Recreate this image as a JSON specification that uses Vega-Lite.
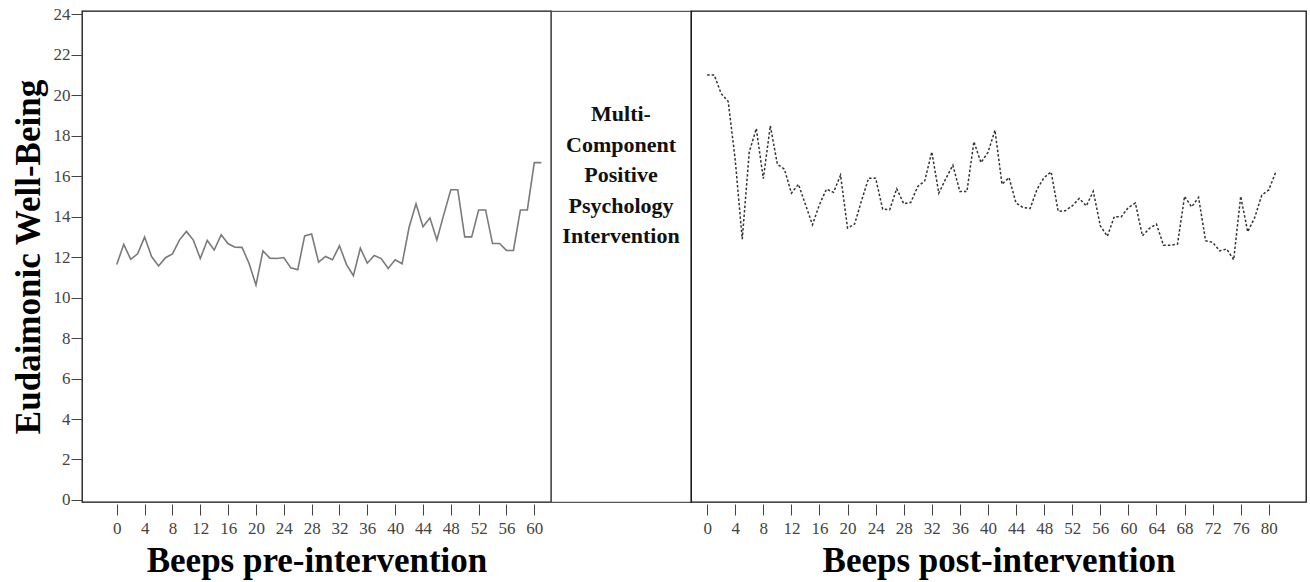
{
  "$schema": "https://vega.github.io/schema/vega-lite/v6.json",
  "background": "white",
  "padding": {"left": 10, "top": 4, "right": 2, "bottom": 4},
  "spacing": 0,
  "bounds": "flush",
  "config": {
    "font": "Liberation Serif",
    "view": {"stroke": "#111", "strokeWidth": 1.3},
    "axis": {
      "labelFont": "Liberation Serif",
      "labelFontSize": 17,
      "labelColor": "#444",
      "tickColor": "#444",
      "tickSize": 11,
      "grid": false,
      "domain": false,
      "titleFont": "Liberation Serif",
      "titleFontSize": 35,
      "titleFontWeight": "bold",
      "titleColor": "#000"
    }
  },
  "datasets": {
    "pre": [
      {"beep": 0, "wellbeing": 11.64}, {"beep": 1, "wellbeing": 12.63}, {"beep": 2, "wellbeing": 11.89}, {"beep": 3, "wellbeing": 12.16},
      {"beep": 4, "wellbeing": 12.99}, {"beep": 5, "wellbeing": 12.03}, {"beep": 6, "wellbeing": 11.56}, {"beep": 7, "wellbeing": 11.97},
      {"beep": 8, "wellbeing": 12.16}, {"beep": 9, "wellbeing": 12.84}, {"beep": 10, "wellbeing": 13.27}, {"beep": 11, "wellbeing": 12.84},
      {"beep": 12, "wellbeing": 11.93}, {"beep": 13, "wellbeing": 12.82}, {"beep": 14, "wellbeing": 12.35}, {"beep": 15, "wellbeing": 13.1},
      {"beep": 16, "wellbeing": 12.66}, {"beep": 17, "wellbeing": 12.49}, {"beep": 18, "wellbeing": 12.48}, {"beep": 19, "wellbeing": 11.7},
      {"beep": 20, "wellbeing": 10.62}, {"beep": 21, "wellbeing": 12.31}, {"beep": 22, "wellbeing": 11.95}, {"beep": 23, "wellbeing": 11.93},
      {"beep": 24, "wellbeing": 11.98}, {"beep": 25, "wellbeing": 11.47}, {"beep": 26, "wellbeing": 11.37}, {"beep": 27, "wellbeing": 13.05},
      {"beep": 28, "wellbeing": 13.14}, {"beep": 29, "wellbeing": 11.75}, {"beep": 30, "wellbeing": 12.03}, {"beep": 31, "wellbeing": 11.87},
      {"beep": 32, "wellbeing": 12.56}, {"beep": 33, "wellbeing": 11.64}, {"beep": 34, "wellbeing": 11.08}, {"beep": 35, "wellbeing": 12.44},
      {"beep": 36, "wellbeing": 11.7}, {"beep": 37, "wellbeing": 12.08}, {"beep": 38, "wellbeing": 11.93}, {"beep": 39, "wellbeing": 11.44},
      {"beep": 40, "wellbeing": 11.87}, {"beep": 41, "wellbeing": 11.67}, {"beep": 42, "wellbeing": 13.46}, {"beep": 43, "wellbeing": 14.63},
      {"beep": 44, "wellbeing": 13.5}, {"beep": 45, "wellbeing": 13.94}, {"beep": 46, "wellbeing": 12.85}, {"beep": 47, "wellbeing": 14.11},
      {"beep": 48, "wellbeing": 15.33}, {"beep": 49, "wellbeing": 15.33}, {"beep": 50, "wellbeing": 13.0}, {"beep": 51, "wellbeing": 13.0},
      {"beep": 52, "wellbeing": 14.33}, {"beep": 53, "wellbeing": 14.33}, {"beep": 54, "wellbeing": 12.67}, {"beep": 55, "wellbeing": 12.67},
      {"beep": 56, "wellbeing": 12.33}, {"beep": 57, "wellbeing": 12.33}, {"beep": 58, "wellbeing": 14.33}, {"beep": 59, "wellbeing": 14.33},
      {"beep": 60, "wellbeing": 16.67}, {"beep": 61, "wellbeing": 16.67}
    ],
    "post": [
      {"beep": 0, "wellbeing": 21.0}, {"beep": 1, "wellbeing": 21.0}, {"beep": 2, "wellbeing": 20.08}, {"beep": 3, "wellbeing": 19.69},
      {"beep": 4, "wellbeing": 16.8}, {"beep": 5, "wellbeing": 12.89}, {"beep": 6, "wellbeing": 17.2}, {"beep": 7, "wellbeing": 18.35},
      {"beep": 8, "wellbeing": 15.88}, {"beep": 9, "wellbeing": 18.49}, {"beep": 10, "wellbeing": 16.59}, {"beep": 11, "wellbeing": 16.35},
      {"beep": 12, "wellbeing": 15.16}, {"beep": 13, "wellbeing": 15.6}, {"beep": 14, "wellbeing": 14.6}, {"beep": 15, "wellbeing": 13.6},
      {"beep": 16, "wellbeing": 14.6}, {"beep": 17, "wellbeing": 15.36}, {"beep": 18, "wellbeing": 15.2}, {"beep": 19, "wellbeing": 16.05},
      {"beep": 20, "wellbeing": 13.43}, {"beep": 21, "wellbeing": 13.63}, {"beep": 22, "wellbeing": 14.8}, {"beep": 23, "wellbeing": 15.9},
      {"beep": 24, "wellbeing": 15.9}, {"beep": 25, "wellbeing": 14.37}, {"beep": 26, "wellbeing": 14.34}, {"beep": 27, "wellbeing": 15.38},
      {"beep": 28, "wellbeing": 14.64}, {"beep": 29, "wellbeing": 14.7}, {"beep": 30, "wellbeing": 15.49}, {"beep": 31, "wellbeing": 15.77},
      {"beep": 32, "wellbeing": 17.2}, {"beep": 33, "wellbeing": 15.16}, {"beep": 34, "wellbeing": 15.88}, {"beep": 35, "wellbeing": 16.54},
      {"beep": 36, "wellbeing": 15.24}, {"beep": 37, "wellbeing": 15.24}, {"beep": 38, "wellbeing": 17.7}, {"beep": 39, "wellbeing": 16.67},
      {"beep": 40, "wellbeing": 17.17}, {"beep": 41, "wellbeing": 18.27}, {"beep": 42, "wellbeing": 15.6}, {"beep": 43, "wellbeing": 15.93},
      {"beep": 44, "wellbeing": 14.67}, {"beep": 45, "wellbeing": 14.45}, {"beep": 46, "wellbeing": 14.4}, {"beep": 47, "wellbeing": 15.36},
      {"beep": 48, "wellbeing": 15.93}, {"beep": 49, "wellbeing": 16.21}, {"beep": 50, "wellbeing": 14.26}, {"beep": 51, "wellbeing": 14.29},
      {"beep": 52, "wellbeing": 14.53}, {"beep": 53, "wellbeing": 14.9}, {"beep": 54, "wellbeing": 14.53}, {"beep": 55, "wellbeing": 15.25},
      {"beep": 56, "wellbeing": 13.55}, {"beep": 57, "wellbeing": 13.03}, {"beep": 58, "wellbeing": 14.0}, {"beep": 59, "wellbeing": 14.0},
      {"beep": 60, "wellbeing": 14.45}, {"beep": 61, "wellbeing": 14.67}, {"beep": 62, "wellbeing": 13.05}, {"beep": 63, "wellbeing": 13.42},
      {"beep": 64, "wellbeing": 13.63}, {"beep": 65, "wellbeing": 12.59}, {"beep": 66, "wellbeing": 12.59}, {"beep": 67, "wellbeing": 12.64},
      {"beep": 68, "wellbeing": 15.0}, {"beep": 69, "wellbeing": 14.48}, {"beep": 70, "wellbeing": 14.95}, {"beep": 71, "wellbeing": 12.81},
      {"beep": 72, "wellbeing": 12.73}, {"beep": 73, "wellbeing": 12.31}, {"beep": 74, "wellbeing": 12.4}, {"beep": 75, "wellbeing": 11.87},
      {"beep": 76, "wellbeing": 15.0}, {"beep": 77, "wellbeing": 13.25}, {"beep": 78, "wellbeing": 13.96}, {"beep": 79, "wellbeing": 15.06},
      {"beep": 80, "wellbeing": 15.32}, {"beep": 81, "wellbeing": 16.21}
    ],
    "label": [
      {"row": 0, "line": "Multi-"},
      {"row": 1, "line": "Component"},
      {"row": 2, "line": "Positive"},
      {"row": 3, "line": "Psychology"},
      {"row": 4, "line": "Intervention"}
    ]
  },
  "hconcat": [
    {
      "width": 469,
      "height": 491,
      "data": {"name": "pre"},
      "mark": {"type": "line", "color": "#7a7a7a", "strokeWidth": 1.6},
      "encoding": {
        "x": {
          "field": "beep", "type": "quantitative",
          "scale": {"domain": [-5, 62.4], "nice": false, "zero": false},
          "axis": {"values": [0, 4, 8, 12, 16, 20, 24, 28, 32, 36, 40, 44, 48, 52, 56, 60], "title": "Beeps pre-intervention", "offset": 2, "labelPadding": 5, "titlePadding": 7}
        },
        "y": {
          "field": "wellbeing", "type": "quantitative",
          "scale": {"domain": [-0.1, 24.16], "nice": false, "zero": false},
          "axis": {"values": [0, 2, 4, 6, 8, 10, 12, 14, 16, 18, 20, 22, 24], "title": "Eudaimonic Well-Being", "labelPadding": 1, "titlePadding": 7}
        }
      }
    },
    {
      "width": 140,
      "height": 491,
      "data": {"name": "label"},
      "view": {"stroke": "#555", "strokeWidth": 1.2},
      "mark": {"type": "text", "fontSize": 22, "fontWeight": "bold", "font": "Liberation Serif", "color": "#111"},
      "encoding": {
        "y": {"field": "row", "type": "quantitative", "scale": {"domain": [-3.387, 12.72], "reverse": true, "nice": false, "zero": false}, "axis": null},
        "text": {"field": "line"}
      }
    },
    {
      "width": 615,
      "height": 491,
      "data": {"name": "post"},
      "mark": {"type": "line", "color": "#333", "strokeWidth": 1.5, "strokeDash": [2.5, 2]},
      "encoding": {
        "x": {
          "field": "beep", "type": "quantitative",
          "scale": {"domain": [-2.3, 85.3], "nice": false, "zero": false},
          "axis": {"values": [0, 4, 8, 12, 16, 20, 24, 28, 32, 36, 40, 44, 48, 52, 56, 60, 64, 68, 72, 76, 80], "title": "Beeps post-intervention", "offset": 2, "labelPadding": 5, "titlePadding": 7}
        },
        "y": {
          "field": "wellbeing", "type": "quantitative",
          "scale": {"domain": [-0.1, 24.16], "nice": false, "zero": false},
          "axis": null
        }
      }
    }
  ]
}
